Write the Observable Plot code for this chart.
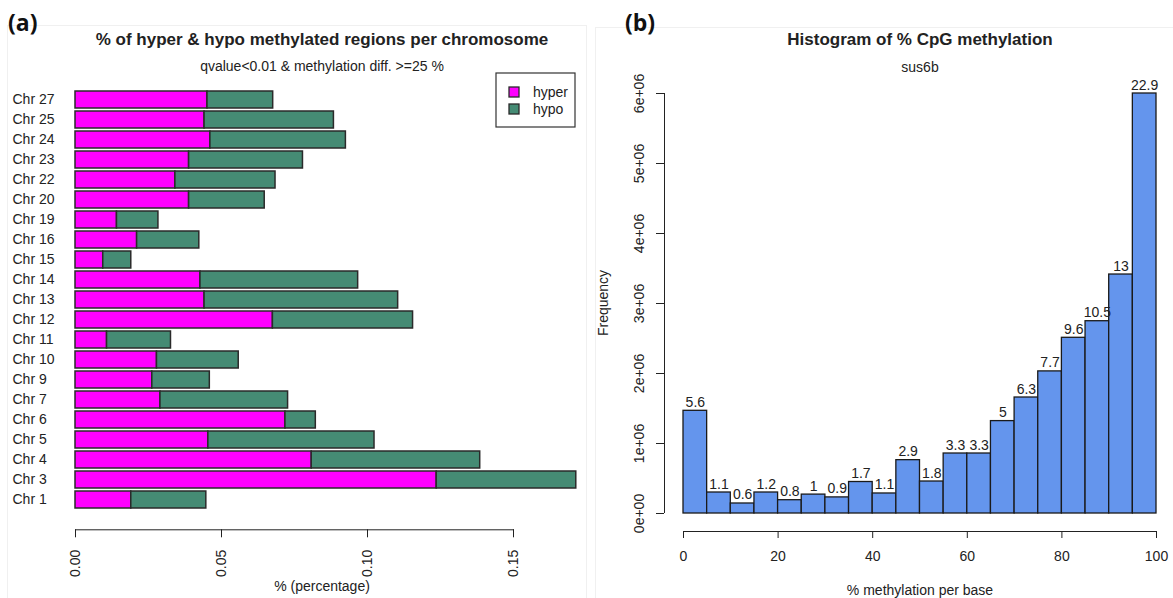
<!DOCTYPE html>
<html><head><meta charset="utf-8">
<script src="https://cdn.jsdelivr.net/npm/d3@7"></script>
<script src="https://cdn.jsdelivr.net/npm/@observablehq/plot@0.6"></script>
<style>
body{margin:0;background:#fff;}
#wrap{position:relative;width:1173px;height:598px;overflow:hidden;background:#fff}
#wrap svg{position:absolute;top:0}
#overlay{left:0;pointer-events:none;font-family:"Liberation Sans",Arial,sans-serif;fill:#222}
</style></head><body><div id="wrap"></div>
<script>
// ---- Panel (a) data ----
const chromosomes = ["Chr 27","Chr 25","Chr 24","Chr 23","Chr 22","Chr 20","Chr 19","Chr 16","Chr 15","Chr 14","Chr 13","Chr 12","Chr 11","Chr 10","Chr 9","Chr 7","Chr 6","Chr 5","Chr 4","Chr 3","Chr 1"];
const hyper = [0.0452,0.0442,0.0462,0.0389,0.0342,0.0389,0.0142,0.0211,0.0095,0.0428,0.0442,0.0676,0.0108,0.0279,0.0263,0.0291,0.0719,0.0455,0.0809,0.1237,0.0191];
const hypo  = [0.0225,0.0443,0.0464,0.0390,0.0343,0.0259,0.0142,0.0213,0.0096,0.0540,0.0663,0.0480,0.0219,0.0280,0.0197,0.0437,0.0104,0.0569,0.0577,0.0478,0.0257];
const seriesA = ["hyper","hypo"];
const xTicksA = [0,0.05,0.10,0.15];
const xTickLabelsA = ["0.00","0.05","0.10","0.15"];

// ---- Panel (b) data ----
const binStarts = [0,5,10,15,20,25,30,35,40,45,50,55,60,65,70,75,80,85,90,95];
const binWidth = 5;
const counts = [1467000,300000,143000,300000,190000,270000,230000,450000,286000,762000,457000,857000,857000,1320000,1657000,2030000,2510000,2747000,3414000,6000000];
const pctLabels = ["5.6","1.1","0.6","1.2","0.8","1","0.9","1.7","1.1","2.9","1.8","3.3","3.3","5","6.3","7.7","9.6","10.5","13","22.9"];
const yTicksB = [0,1e6,2e6,3e6,4e6,5e6,6e6];
const yTickLabelsB = ["0e+00","1e+06","2e+06","3e+06","4e+06","5e+06","6e+06"];
const xTicksB = [0,20,40,60,80,100];

const FONT = "Liberation Sans, Arial, sans-serif";
const wrap = document.getElementById("wrap");

// ---- Plot (a) ----
const rowsA = [];
chromosomes.forEach((c,i)=>{
  rowsA.push({chr:c,type:seriesA[0],value:hyper[i]});
  rowsA.push({chr:c,type:seriesA[1],value:hypo[i]});
});
const xDomA = [0,0.175];
const mLA = 75, mRA = 2, wA = 588;
const insetR = (wA - mLA - mRA) * (1 - xTicksA[xTicksA.length-1]/xDomA[1]);
const plotA = Plot.plot({
  width: wA, height: 598, marginLeft: mLA, marginRight: mRA, marginTop: 91, marginBottom: 89.7,
  style: {fontFamily: FONT, fontSize: "14px", color: "#222", background: "transparent", overflow: "visible"},
  x: {domain: xDomA},
  y: {domain: chromosomes, paddingInner: 0.1667, paddingOuter: 0, align: 0},
  color: {domain: seriesA, range: ["#ff00ff","#458b74"]},
  marks: [
    Plot.barX(rowsA, Plot.stackX({x:"value", y:"chr", fill:"type", stroke:"#2a2a2a", strokeWidth:1.5})),
    Plot.axisY({tickSize:0, tickPadding:0, textAnchor:"start", dx:-63, fontSize:14, label:null}),
    Plot.axisX({ticks:xTicksA, tickFormat:(d,i)=>xTickLabelsA[i], tickSize:8, tickRotate:-90, dy:21, tickPadding:12, fontSize:14, label:null}),
    Plot.frame({anchor:"bottom", dy:21, insetRight: insetR, stroke:"#222"})
  ]
});
plotA.style.left = "0px";
wrap.appendChild(plotA);

// ---- Plot (b) ----
const rowsB = binStarts.map((s,i)=>({x1:s, x2:s+binWidth, count:counts[i], label:pctLabels[i]}));
const plotB = Plot.plot({
  width: 583, height: 598, marginLeft: 93, marginRight: 17, marginTop: 93, marginBottom: 85,
  style: {fontFamily: FONT, fontSize: "14px", color: "#222", background: "transparent", overflow: "visible"},
  x: {domain:[0,100]},
  y: {domain:[0,6e6]},
  marks: [
    Plot.rectY(rowsB, {x1:"x1", x2:"x2", y:"count", fill:"#6495ed", stroke:"#1a1a1a", strokeWidth:1.3}),
    Plot.text(rowsB, {x:d=>(d.x1+d.x2)/2, y:"count", text:"label", lineAnchor:"bottom", dy:-4, fontSize:14, fill:"#222"}),
    Plot.axisY({ticks:yTicksB, tickFormat:(d,i)=>yTickLabelsB[i], tickSize:8, tickRotate:-90, dx:-19, tickPadding:13, fontSize:14, label:null}),
    Plot.ruleX([0], {y1:0, y2:6e6, dx:-19, stroke:"#222"}),
    Plot.axisX({ticks:xTicksB, tickSize:7, dy:18, tickPadding:13, fontSize:14, label:null}),
    Plot.ruleY([0], {x1:0, x2:100, dy:18, stroke:"#222"})
  ]
});
plotB.style.left = "590px";
wrap.appendChild(plotB);

// ---- Overlay: titles, labels, legend ----
const NS = "http://www.w3.org/2000/svg";
const ov = document.createElementNS(NS,"svg");
ov.setAttribute("id","overlay");
ov.setAttribute("width",1173); ov.setAttribute("height",598);
wrap.appendChild(ov);
function txt(s, x, y, opts={}) {
  const t = document.createElementNS(NS,"text");
  t.textContent = s;
  t.setAttribute("x",x); t.setAttribute("y",y);
  t.setAttribute("text-anchor", opts.anchor || "middle");
  t.setAttribute("font-size", opts.size || 14);
  if (opts.weight) t.setAttribute("font-weight", opts.weight);
  if (opts.family) t.setAttribute("font-family", opts.family);
  if (opts.rotate) t.setAttribute("transform", `rotate(${opts.rotate} ${x} ${y})`);
  if (opts.fill) t.setAttribute("fill", opts.fill);
  ov.appendChild(t);
}
function rect(x,y,w,h,fill,stroke,sw){
  const r = document.createElementNS(NS,"rect");
  r.setAttribute("x",x); r.setAttribute("y",y); r.setAttribute("width",w); r.setAttribute("height",h);
  r.setAttribute("fill",fill); r.setAttribute("stroke",stroke); r.setAttribute("stroke-width",sw);
  ov.appendChild(r);
}
// faint panel borders
rect(7.5,25.5,579,600,"none","#f0f0f0",1);
rect(595.5,27.5,600,600,"none","#f0f0f0",1);

txt("(a)", 8, 31, {anchor:"start", size:23, weight:"bold", family:"Open Sans, Lato, sans-serif", fill:"#111"});
txt("(b)", 625, 31, {anchor:"start", size:23, weight:"bold", family:"Open Sans, Lato, sans-serif", fill:"#111"});

txt("% of hyper & hypo methylated regions per chromosome", 322, 45, {size:17, weight:"bold"});
txt("qvalue<0.01 & methylation diff. >=25 %", 322, 71, {size:14});
txt("% (percentage)", 322, 591, {size:14});

txt("Histogram of % CpG methylation", 920, 45, {size:17, weight:"bold"});
txt("sus6b", 920, 72, {size:14});
txt("% methylation per base", 920, 595, {size:14});
txt("Frequency", 608, 303, {size:14, rotate:-90});

// legend
rect(496,73,79,54,"#fff","#333",1.2);
const legFill = ["#ff00ff","#458b74"];
seriesA.forEach((s,i)=>{
  rect(509, 87+i*17, 10, 10, legFill[i], "#2a2a2a", 1.3);
  txt(s, 533, 97+i*17, {anchor:"start", size:14});
});
</script></body></html>
